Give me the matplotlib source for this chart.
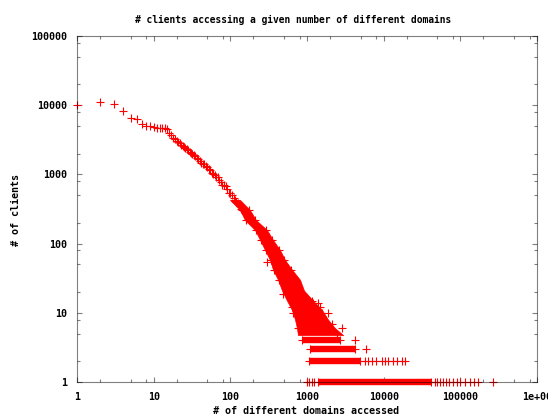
import numpy as np
import matplotlib.pyplot as plt
from matplotlib.ticker import FixedLocator, NullFormatter

RED = '#ff0000'
TICK_COLOR = '#808080'
FONT = dict(family='DejaVu Sans Mono', weight='bold', size=7.2)

# smooth upper part of the distribution: one marker per domain count
curve_x = [1, 2, 3, 4, 5, 6, 7, 8, 9, 10, 11, 12, 13, 14, 15, 16, 17, 18, 19,
           20, 21, 22, 23, 24, 25, 26, 27, 28, 30, 31, 32, 34, 35, 37, 38, 40, 42,
           44, 46, 48, 50, 52, 55, 57, 60, 63, 66, 69, 72, 75, 79, 83, 87, 91, 95,
           100, 105, 110, 115, 120, 126, 132, 138, 144, 150]
curve_y = [10000, 11000, 10400, 8250, 6600, 6250, 5300, 5050, 5000, 4800, 4750, 4730,
           4730, 4700, 4500, 3930, 3650, 3390, 3200,
           3040, 2920, 2800, 2700, 2600, 2500, 2420, 2340, 2270, 2130, 2060, 2000,
           1880, 1820, 1700, 1650, 1540, 1480, 1420, 1400, 1320, 1260, 1210, 1140,
           1050, 1030, 980, 930, 910, 830, 780, 710, 700, 690, 610, 540,
           530, 510, 460, 420, 400, 390, 355, 320, 315, 300]

# dense noisy band (visible extent of the overlapping markers per client count)
band_y = [427, 306, 219, 157, 113, 81, 58, 42, 30, 21, 15, 11, 8, 6, 4.77]
band_lo = [99, 134, 155, 210, 244, 283, 329, 360, 419, 472, 548, 637, 697, 740, 762]
band_hi = [134, 180, 216, 301, 360, 444, 517, 637, 811, 914, 1197, 1570, 1880, 2320, 2960]

# isolated markers sticking out of the band
edge_x = [140, 160, 215, 250, 290, 335, 370, 430,
          175, 210, 290, 345, 425, 495, 610,
          298, 491, 516, 632, 663, 771, 851, 942, 1040, 1150, 1208, 1400, 1480,
          1550, 1896, 2090, 2440, 2830]
edge_y = [306, 219, 157, 113, 81, 58, 42, 30,
          306, 219, 157, 113, 81, 58, 42,
          55, 19, 25, 12, 10, 6, 6, 15, 14, 15, 14, 14, 12, 10, 10, 7, 5, 6]

# low counts: contiguous runs of domain counts, then scattered ones
row_counts = [4, 3, 2, 1]
row_start = [860, 1095, 1077, 1390]
row_end = [2690, 4230, 4910, 41400]
sparse_x4 = [4230]
sparse_x3 = [5890]
sparse_x2 = [5710, 6310, 6970, 7940, 9420, 10400, 11500, 13300, 15000, 17200, 19000]
sparse_x1 = [1010, 1070, 1150, 1233, 46700, 50000, 54200, 58900, 65000, 71800, 80900,
             89500, 98900, 114800, 133400, 152000, 171400, 264000]

x_ticks = [1, 10, 100, 1000, 10000, 100000, 1000000]
x_ticklabels = ['1', '10', '100', '1000', '10000', '100000', '1e+06']
y_ticks = [1, 10, 100, 1000, 10000, 100000]
y_ticklabels = ['1', '10', '100', '1000', '10000', '100000']

fig = plt.figure(figsize=(5.48, 4.16), dpi=100, facecolor='white')
ax = fig.add_axes([77 / 548, 34 / 416, 460 / 548, 346 / 416])
ax.set_xscale('log')
ax.set_yscale('log')
ax.set_xlim(1, 1e6)
ax.set_ylim(1, 1e5)

mk = dict(marker='+', ls='none', color=RED, ms=5.2, mew=0.8, clip_on=False, zorder=2)

ax.fill_betweenx(band_y, band_lo, band_hi, color=RED, lw=0.5, zorder=2)
ax.hlines(row_counts, row_start, row_end, color=RED, lw=4.6, capstyle='butt',
          clip_on=False, zorder=2)
ax.plot(curve_x, curve_y, **mk)
ax.plot(edge_x, edge_y, **mk)
ax.plot(row_start + row_end, row_counts + row_counts, **mk)
ax.plot(sparse_x4, [4] * len(sparse_x4), **mk)
ax.plot(sparse_x3, [3] * len(sparse_x3), **mk)
ax.plot(sparse_x2, [2] * len(sparse_x2), **mk)
ax.plot(sparse_x1, [1] * len(sparse_x1), **mk)

minor_x = [m * 10.0 ** d for d in range(6) for m in (2, 5, 8)]
minor_y = [m * 10.0 ** d for d in range(5) for m in (2, 5, 8)]
ax.xaxis.set_major_locator(FixedLocator(x_ticks))
ax.yaxis.set_major_locator(FixedLocator(y_ticks))
ax.xaxis.set_minor_locator(FixedLocator(minor_x))
ax.yaxis.set_minor_locator(FixedLocator(minor_y))
ax.xaxis.set_minor_formatter(NullFormatter())
ax.yaxis.set_minor_formatter(NullFormatter())
ax.set_xticklabels(x_ticklabels, **FONT)
ax.set_yticklabels(y_ticklabels, **FONT)
ax.tick_params(which='both', direction='in', top=True, right=True, color=TICK_COLOR,
               width=0.8, pad=7.2, labelcolor='black')
ax.tick_params(which='major', length=3.8)
ax.tick_params(which='minor', length=2.0)

for spine in ax.spines.values():
    spine.set_edgecolor((0, 0, 0, 0.5))
    spine.set_linewidth(0.8)
    spine.set_zorder(5)

fig.text(293 / 548, 1 - 20 / 416, '# clients accessing a given number of different domains',
         ha='center', va='center', family='DejaVu Sans Mono', weight='bold', size=6.95)
fig.text(16 / 548, 1 - 210 / 416, '# of clients', rotation=90, ha='center', va='center', **FONT)
fig.text(306 / 548, 1 - 411 / 416, '# of different domains accessed',
         ha='center', va='center', **FONT)

fig.savefig('out.png', dpi=100)
